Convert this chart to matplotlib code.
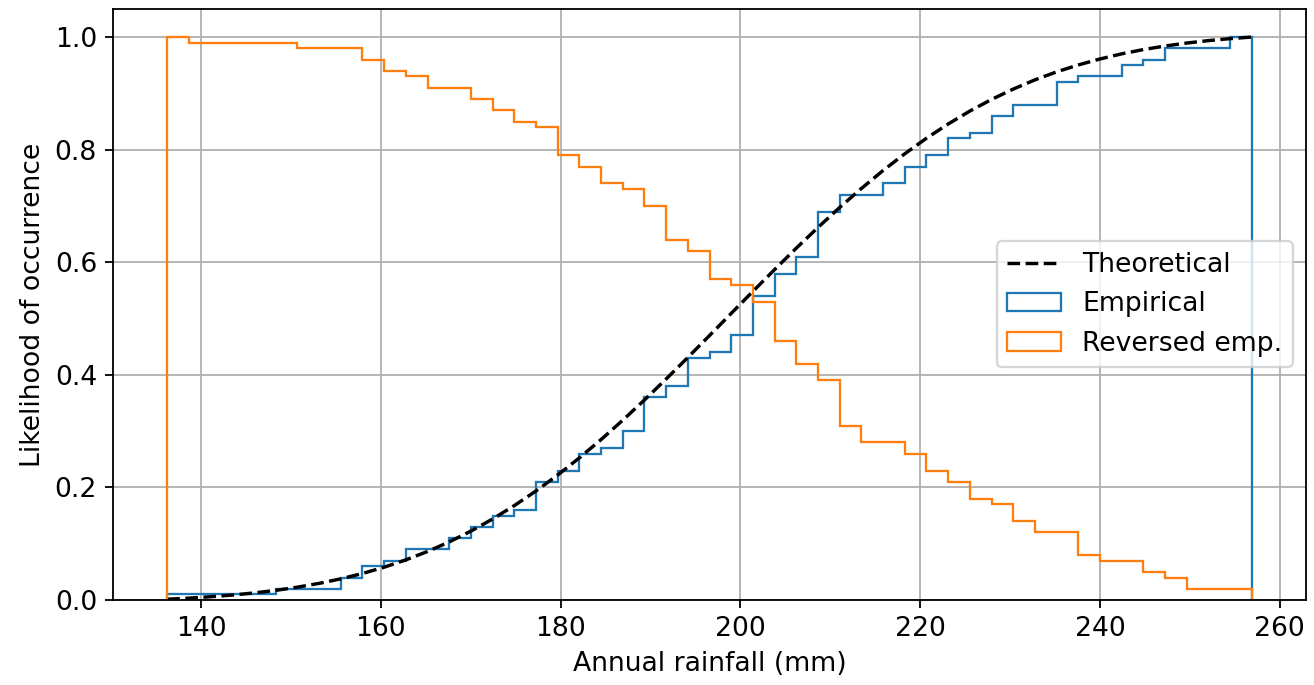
import numpy as np
import matplotlib
matplotlib.use("Agg")
import matplotlib.pyplot as plt

plt.rcParams['font.size'] = 11.7

# rainfall range covered by the 50 bins
rain_min = 136.25
rain_max = 256.9
n_bins = 50

# number of years falling in each bin (100 years in total)
bin_counts = [1, 0, 0, 0, 0, 1, 0, 0, 2, 2,
              1, 2, 0, 2, 2, 2, 1, 5, 2, 3,
              1, 3, 6, 2, 5, 1, 3, 7, 4, 3,
              8, 3, 0, 2, 3, 2, 3, 1, 3, 2,
              0, 4, 1, 0, 2, 1, 2, 0, 0, 2]

# theoretical cumulative curve at each bin edge
theory = [0.0015, 0.0034, 0.0059, 0.0089, 0.0126, 0.0172, 0.0229, 0.0296, 0.0377, 0.0472,
          0.0584, 0.0714, 0.0863, 0.1033, 0.1225, 0.1440, 0.1678, 0.1938, 0.2221, 0.2526,
          0.2851, 0.3195, 0.3554, 0.3927, 0.4310, 0.4699, 0.5092, 0.5484, 0.5871, 0.6251,
          0.6619, 0.6974, 0.7311, 0.7630, 0.7927, 0.8203, 0.8456, 0.8686, 0.8892, 0.9076,
          0.9240, 0.9382, 0.9505, 0.9611, 0.9702, 0.9778, 0.9841, 0.9894, 0.9937, 0.9972,
          1.0000]

edges = np.linspace(rain_min, rain_max, n_bins + 1)
centers = (edges[:-1] + edges[1:]) / 2

fig, ax = plt.subplots(figsize=(1314 / 164, 685 / 164), dpi=164)
fig.subplots_adjust(left=0.086, right=0.994, top=0.987, bottom=0.124)

ax.hist(centers, bins=edges, weights=bin_counts, density=True, histtype='step',
        cumulative=True, label='Empirical')
ax.plot(edges, theory, 'k--', linewidth=1.5, label='Theoretical')
ax.hist(centers, bins=edges, weights=bin_counts, density=True, histtype='step',
        cumulative=-1, label='Reversed emp.')

ax.grid(True)
# legend: theoretical line first, then the two step histograms
handles, labels = ax.get_legend_handles_labels()
order = [labels.index(l) for l in ['Theoretical', 'Empirical', 'Reversed emp.']]
ax.legend([handles[i] for i in order], [labels[i] for i in order], loc='right')
ax.set_xlabel('Annual rainfall (mm)')
ax.set_ylabel('Likelihood of occurrence')

fig.savefig('out.png', dpi=164)
